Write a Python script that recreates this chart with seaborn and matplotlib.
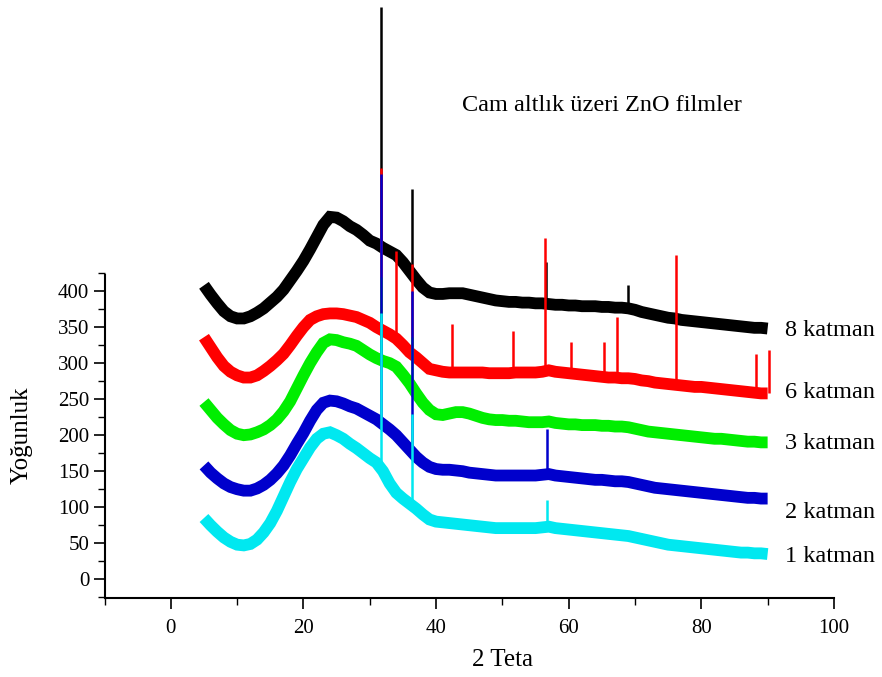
import numpy as np
import pandas as pd
import matplotlib
matplotlib.use("Agg")
import matplotlib.pyplot as plt
import seaborn as sns
from matplotlib.ticker import MultipleLocator

# 2 teta, 5..90 derece, 1 derece adim
teta = list(range(5, 91))

# bant ortasi degerleri
katman8 = [408, 395, 383, 372, 365, 362, 362, 365, 370, 376,
           384, 392, 402, 415, 428, 442, 458, 475, 492, 503,
           502, 497, 490, 485, 478, 470, 466, 460, 455, 450,
           440, 428, 416, 405, 398, 396, 396, 397, 397, 397,
           395, 393, 391, 389, 387, 386, 385, 385, 384, 384,
           383, 383, 382, 381, 381, 380, 380, 379, 379, 379,
           378, 378, 377, 377, 376, 374, 371, 369, 367, 365,
           363, 362, 360, 359, 358, 357, 356, 355, 354, 353,
           352, 351, 350, 349, 349, 348]
katman6 = [336, 322, 308, 296, 288, 283, 280, 280, 283, 289,
           296, 304, 313, 325, 338, 350, 360, 365, 368, 369,
           369, 368, 366, 364, 360, 356, 350, 345, 340, 334,
           325, 315, 308, 300, 292, 290, 288, 287, 287, 287,
           287, 287, 287, 286, 286, 286, 286, 287, 287, 287,
           287, 288, 290, 288, 287, 286, 285, 284, 283, 282,
           281, 280, 280, 279, 279, 278, 276, 275, 273, 272,
           271, 270, 269, 268, 267, 267, 266, 265, 264, 263,
           262, 261, 260, 259, 258, 258]
katman3 = [246, 235, 224, 215, 207, 202, 200, 201, 204, 208,
           214, 222, 233, 247, 265, 283, 300, 315, 328, 333,
           332, 329, 327, 324, 318, 312, 307, 303, 300, 295,
           284, 272, 258, 245, 235, 229, 228, 230, 232, 232,
           230, 227, 224, 222, 221, 221, 220, 220, 219, 218,
           218, 218, 219, 217, 216, 215, 215, 214, 214, 214,
           213, 213, 212, 212, 211, 209, 207, 205, 204, 203,
           202, 201, 200, 199, 198, 197, 196, 195, 195, 194,
           193, 192, 191, 191, 190, 190]
katman2 = [158, 148, 140, 133, 128, 125, 123, 123, 126, 131,
           138, 147, 158, 172, 188, 203, 220, 235, 245, 248,
           247, 244, 240, 237, 232, 227, 222, 215, 208, 200,
           190, 180, 170, 162, 156, 153, 152, 152, 151, 150,
           148, 147, 146, 145, 144, 144, 144, 144, 144, 144,
           144, 145, 146, 144, 143, 142, 141, 140, 139, 138,
           138, 137, 136, 136, 135, 133, 131, 129, 127, 126,
           125, 124, 123, 122, 121, 120, 119, 118, 117, 116,
           115, 114, 113, 113, 112, 112]
katman1 = [85, 75, 66, 58, 52, 48, 47, 49, 55, 65,
           78, 95, 115, 135, 153, 168, 183, 195, 202, 204,
           200, 195, 188, 182, 175, 168, 162, 150, 133, 120,
           112, 105, 98, 90, 83, 80, 79, 78, 77, 76,
           75, 74, 73, 72, 71, 71, 71, 71, 71, 71,
           71, 72, 73, 71, 70, 69, 68, 67, 66, 65,
           64, 63, 62, 61, 60, 58, 56, 54, 52, 50,
           48, 47, 46, 45, 44, 43, 42, 41, 40, 39,
           38, 37, 37, 36, 36, 35]

# pikler: konum, taban, tepe
pik8 = [(31.7, 460, 795), (36.4, 428, 542), (56.6, 383, 440), (69.0, 377, 408)]
pik6 = [(31.7, 348, 571), (34.0, 334, 456), (36.4, 313, 438), (42.4, 287, 355),
        (51.6, 286, 345), (56.5, 288, 473), (60.4, 286, 329), (65.3, 281, 329),
        (67.3, 280, 364), (76.2, 270, 450), (88.2, 259, 313), (90.2, 258, 318)]
pik3 = [(31.7, 305, 420), (36.4, 268, 336)]
pik2 = [(31.7, 218, 563), (36.4, 178, 400), (56.7, 145, 209)]
pik1 = [(31.7, 158, 370), (36.4, 103, 230), (56.7, 72, 110)]

seriler = ["8 katman", "6 katman", "3 katman", "2 katman", "1 katman"]
renkler = ["#000000", "#ff0000", "#00ee00", "#0000cc", "#00e8f0"]
etiket_y = [345, 259, 189, 92, 32]

df = pd.DataFrame({
    "teta": teta * 5,
    "yogunluk": katman8 + katman6 + katman3 + katman2 + katman1,
    "seri": sum([[s] * len(teta) for s in seriler], []),
})

sns.set_theme(style="white")
plt.rcParams["font.family"] = ["Liberation Serif", "DejaVu Serif"]
plt.rcParams["text.color"] = "black"
plt.rcParams["xtick.color"] = "black"
plt.rcParams["ytick.color"] = "black"

fig = plt.figure(figsize=(8.82, 6.77), dpi=100)
ax = fig.add_axes([0.1185, 0.1167, 0.827, 0.879])

pikler = [pik8, pik6, pik3, pik2, pik1]
for s, r, p in zip(seriler, renkler, pikler):
    sns.lineplot(data=df[df.seri == s], x="teta", y="yogunluk", color=r,
                 linewidth=8.5, estimator=None, sort=False, ax=ax,
                 solid_joinstyle="miter", solid_capstyle="butt")
    ax.vlines([q[0] for q in p], [q[1] for q in p], [q[2] for q in p],
              color=r, linewidth=1.8)

for s, yy in zip(seriler, etiket_y):
    ax.text(92.6, yy, s, fontsize=17.5, va="center", ha="left")

ax.text(65, 658, "Cam altlık üzeri ZnO filmler", fontsize=17.5,
        ha="center", va="center")

ax.set_xlim(-10, 100)
ax.set_ylim(-26, 800)
ax.set_xlabel("")
ax.set_ylabel("")
fig.text(503 / 882, 1 - 660 / 677, "2 Teta", fontsize=18, ha="center", va="center")
fig.text(22 / 882, 1 - 435 / 677, "Yoğunluk", fontsize=18, rotation=90,
         ha="center", va="center")

ax.xaxis.set_major_locator(MultipleLocator(20))
ax.xaxis.set_minor_locator(MultipleLocator(10))
ax.set_yticks(range(0, 401, 50))
ax.tick_params(axis="both", which="major", direction="out", length=8, width=1.2,
               labelsize=15, colors="black", bottom=True, left=True, pad=3)
ax.tick_params(axis="both", which="minor", direction="out", length=5, width=1,
               colors="black", bottom=True, left=True)
ax.tick_params(axis="x", which="major", pad=7)

for sp in ["top", "right"]:
    ax.spines[sp].set_visible(False)
for sp in ["left", "bottom"]:
    ax.spines[sp].set_color("black")
    ax.spines[sp].set_linewidth(1.5)
ax.spines["left"].set_bounds(-26, 422)
ax.set_yticks([t for t in np.arange(-25, 426, 25) if t % 50 != 0], minor=True)

fig.savefig("out.png", dpi=100)
